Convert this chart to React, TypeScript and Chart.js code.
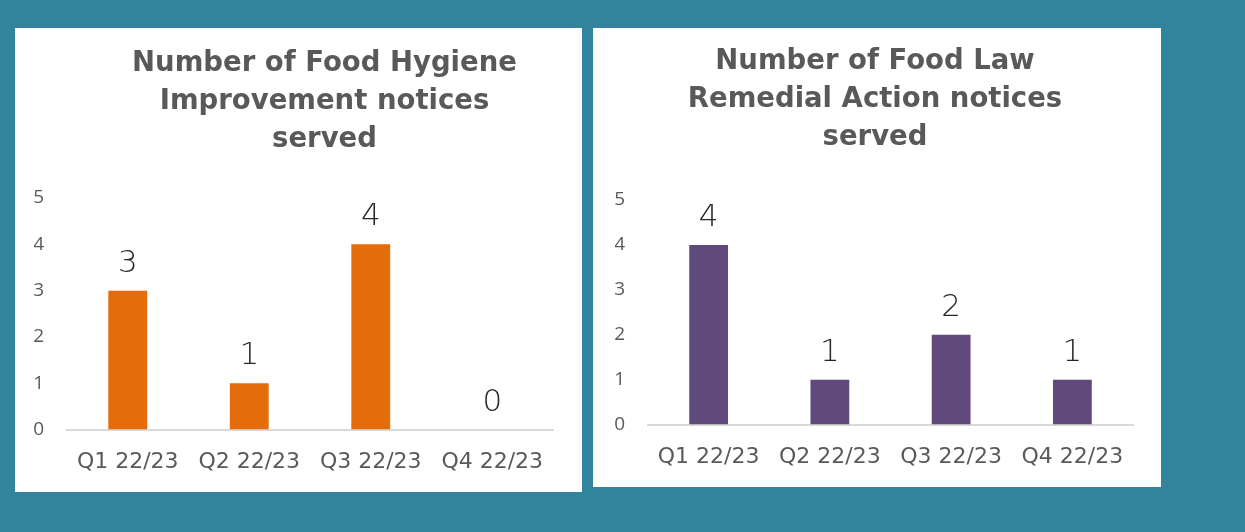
import { useEffect, useRef } from "react";
import { Chart, registerables } from "chart.js";

Chart.register(...registerables);

const categories = ["Q1 22/23", "Q2 22/23", "Q3 22/23", "Q4 22/23"];
const hygieneValues = [3, 1, 4, 0];
const remedialValues = [4, 1, 2, 1];
const hygieneTitle = ["Number of Food Hygiene", "Improvement notices", "served"];
const remedialTitle = ["Number of Food Law", "Remedial Action notices", "served"];
const yMin = 0;
const yMax = 5;
const yStep = 1;

const TEAL = "#31849B";
const ORANGE = "#E46C0A";
const PURPLE = "#604A7B";
const TEXT = "#595959";

const valueLabels = {
  id: "valueLabels",
  afterDatasetsDraw(chart: any) {
    const ctx = chart.ctx;
    const meta = chart.getDatasetMeta(0);
    const data = chart.data.datasets[0].data;
    ctx.save();
    ctx.font = "300 31px 'DejaVu Sans'";
    ctx.fillStyle = "#262626";
    ctx.textAlign = "center";
    ctx.textBaseline = "middle";
    meta.data.forEach((bar: any, i: number) => {
      ctx.fillText(String(data[i]), bar.x, bar.y - 27);
    });
    ctx.restore();
  },
};

type PanelProps = {
  values: number[];
  color: string;
  title: string[];
  canvasLeft: number;
  canvasTop: number;
  canvasWidth: number;
  canvasHeight: number;
  pad: { left: number; right: number; top: number; bottom: number };
  titlePad: { top: number; bottom: number };
  rightGutter: number;
  z: number;
};

function BarChart(p: PanelProps) {
  const ref = useRef<HTMLCanvasElement | null>(null);
  useEffect(() => {
    if (!ref.current) return;
    const chart = new Chart(ref.current, {
      type: "bar",
      data: {
        labels: categories,
        datasets: [
          {
            data: p.values,
            backgroundColor: p.color,
            borderWidth: 0,
            categoryPercentage: 1,
            barPercentage: 0.32,
            yAxisID: "y",
          },
        ],
      },
      options: {
        responsive: false,
        animation: false,
        devicePixelRatio: 1,
        layout: { padding: p.pad },
        plugins: {
          legend: { display: false },
          tooltip: { enabled: false },
          title: {
            display: true,
            text: p.title,
            color: TEXT,
            font: { family: "'DejaVu Sans'", size: 27.5, weight: "bold", lineHeight: 38 / 27.5 },
            padding: p.titlePad,
          },
        },
        scales: {
          x: {
            grid: { display: false, drawTicks: false },
            border: { display: true, color: "#D9D9D9", width: 2 },
            ticks: {
              color: TEXT,
              padding: 19,
              font: { family: "'DejaVu Sans'", size: 22, weight: "normal" },
              maxRotation: 0,
              autoSkip: false,
            },
          },
          y: {
            min: yMin,
            max: yMax,
            grid: { display: false, drawTicks: false },
            border: { display: false },
            afterFit: (axis: any) => {
              axis.width = 33;
            },
            ticks: {
              stepSize: yStep,
              color: TEXT,
              padding: 23,
              font: { family: "'Open Sans'", size: 19 },
            },
          },
          gutter: {
            type: "linear",
            position: "right",
            display: true,
            min: yMin,
            max: yMax,
            grid: { display: false, drawTicks: false },
            border: { display: false },
            ticks: { display: false },
            afterFit: (axis: any) => {
              axis.width = p.rightGutter;
            },
          },
        },
      },
      plugins: [valueLabels],
    });
    return () => chart.destroy();
  }, []);
  return (
    <canvas
      ref={ref}
      width={p.canvasWidth}
      height={p.canvasHeight}
      style={{
        position: "absolute",
        left: p.canvasLeft,
        top: p.canvasTop,
        width: p.canvasWidth,
        height: p.canvasHeight,
        zIndex: p.z,
      }}
    />
  );
}

export default function App() {
  return (
    <div
      style={{
        position: "fixed",
        left: 0,
        top: 0,
        width: 1245,
        height: 532,
        background: TEAL,
        overflow: "hidden",
      }}
    >
      <div style={{ position: "absolute", left: 15, top: 28, width: 567, height: 464, background: "#fff", zIndex: 0 }} />
      <BarChart
        values={hygieneValues}
        color={ORANGE}
        title={hygieneTitle}
        canvasLeft={15}
        canvasTop={28}
        canvasWidth={600}
        canvasHeight={464}
        pad={{ left: 19, right: 0, top: 0, bottom: -2 }}
        titlePad={{ top: 17, bottom: 39 }}
        rightGutter={62}
        z={1}
      />
      <div style={{ position: "absolute", left: 593, top: 28, width: 568, height: 459, background: "#fff", zIndex: 2 }} />
      <BarChart
        values={remedialValues}
        color={PURPLE}
        title={remedialTitle}
        canvasLeft={593}
        canvasTop={28}
        canvasWidth={564}
        canvasHeight={459}
        pad={{ left: 22, right: 22, top: 0, bottom: -2 }}
        titlePad={{ top: 15, bottom: 43 }}
        rightGutter={2}
        z={3}
      />
    </div>
  );
}
